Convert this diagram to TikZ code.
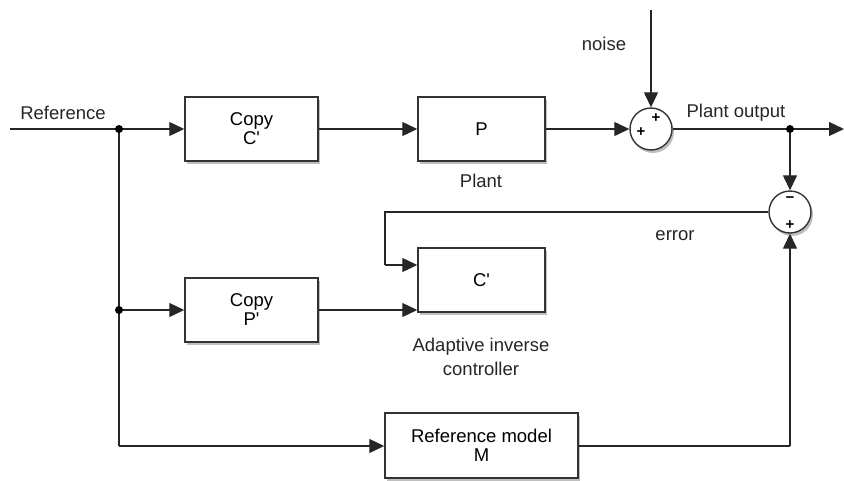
\documentclass[tikz,border=0pt]{standalone}
\usepackage{fontspec}
\setmainfont{Liberation Sans}
\usetikzlibrary{arrows.meta,shadows,positioning}
\begin{document}
\begin{tikzpicture}[x=1pt,y=-1pt,
  wire/.style={draw=black!85, line width=1.3pt},
  arr/.style={wire, -{Triangle[length=15pt,width=14pt]}},
  blk/.style={draw=black!80, line width=1.5pt, fill=white, rectangle, align=center,
    font=\fontsize{18.5}{19}\selectfont, inner sep=0pt,
    drop shadow={shadow xshift=2pt, shadow yshift=-3pt, opacity=0.25, fill=black}},
  sumc/.style={draw=black!80, line width=1.4pt, fill=white, circle, minimum size=42pt, inner sep=0pt,
    drop shadow={shadow xshift=2pt, shadow yshift=-3pt, opacity=0.25, fill=black}},
  lbl/.style={font=\fontsize{18.5}{24}\selectfont, align=center, text=black!85},
  sgn/.style={font=\fontsize{15}{15}\selectfont\bfseries, inner sep=0pt},
  dotc/.style={circle, fill=black, inner sep=0pt, minimum size=8pt}
]
\useasboundingbox (0,0) rectangle (844,480);

% blocks
\node[blk, minimum width=133pt, minimum height=64pt] (copyC) at (251.5,129) {Copy\\C\textquotesingle};
\node[blk, minimum width=127pt, minimum height=64pt] (P) at (481.5,129) {P};
\node[blk, minimum width=127pt, minimum height=64pt] (C) at (481.5,280) {C\textquotesingle};
\node[blk, minimum width=133pt, minimum height=64pt] (copyP) at (251.5,310) {Copy\\P\textquotesingle};
\node[blk, minimum width=193pt, minimum height=65pt] (M) at (481.5,445.5) {Reference model\\M};

% sums
\node[sumc] (s1) at (651,129) {};
\node[sumc] (s2) at (790,212) {};
\node[sgn] (s1a) at (656,118) {+};
\node[sgn] (s1b) at (641,132) {+};
\node[sgn] (s2a) at (790,200) {\textminus};
\node[sgn] (s2b) at (790,225) {+};

% labels
\node[lbl] (lref) at (63,113) {Reference};
\node[lbl] (lnoise) at (604,44) {noise};
\node[lbl] (lout) at (736,113) {Plant output};
\node[lbl] (lplant) at (481,181) {Plant};
\node[lbl] (lerr) at (675,236) {error};
\node[lbl] (lctrl) at (481,357) {Adaptive inverse\\controller};

% coordinates
\coordinate (in) at (10,129);
\coordinate (d1) at (119,129);
\coordinate (d2) at (119,310);
\coordinate (d3) at (119,446);
\coordinate (ntop) at (651,10);
\coordinate (d4) at (790,129);
\coordinate (out) at (844,129);
\coordinate (e1) at (385,212);
\coordinate (e2) at (385,265);
\coordinate (m1) at (790,446);

% wires
\draw[wire] (in) -- (d1);
\draw[arr] (d1) -- (copyC.west);
\draw[arr] (copyC.east) -- (P.west);
\draw[arr] (P.east) -- (s1.west);
\draw[arr] (ntop) -- (s1.north);
\draw[wire] (s1.east) -- (d4);
\draw[arr] (d4) -- (out);
\draw[arr] (d4) -- (s2.north);
\draw[wire] (s2.west) -- (e1) -- (e2);
\draw[arr] (e2) -- (C.west |- e2);
\draw[wire] (d1) -- (d3);
\draw[arr] (d2) -- (copyP.west);
\draw[arr] (copyP.east) -- (C.west |- copyP.east);
\draw[arr] (d3) -- (M.west |- d3);
\draw[wire] (M.east |- m1) -- (m1);
\draw[arr] (m1) -- (s2.south);

% junction dots
\node[dotc] (j1) at (d1) {};
\node[dotc] (j2) at (d2) {};
\node[dotc] (j3) at (d4) {};
\end{tikzpicture}
\end{document}
